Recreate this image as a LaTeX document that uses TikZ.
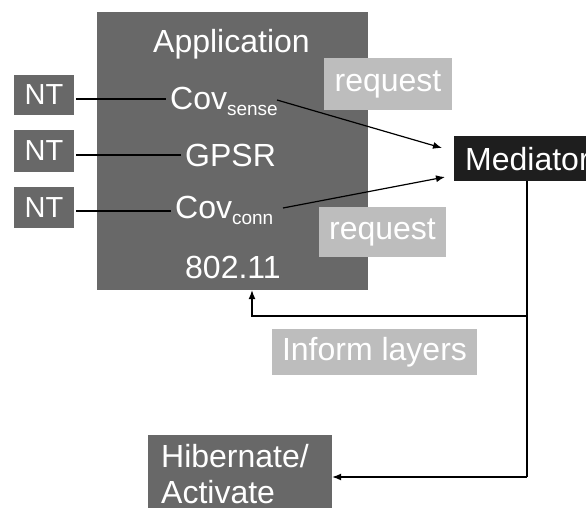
\documentclass[tikz,border=0pt]{standalone}
\usepackage{fontspec}
\setmainfont{Liberation Sans}
\usetikzlibrary{arrows.meta}
\definecolor{boxgray}{HTML}{686868}
\definecolor{lightgray}{HTML}{BDBDBD}
\definecolor{medblack}{HTML}{1E1E1E}
\tikzset{
  blk/.style={fill=#1, draw=none, inner sep=0pt, rectangle},
  txt/.style={text=white, inner xsep=4pt, inner ysep=0pt, font=\fontsize{32}{36}\selectfont},
  ntxt/.style={text=white, inner sep=0pt, font=\fontsize{29}{32}\selectfont},
  conn/.style={draw=black, line width=1.2pt},
  arr/.style={conn, -{Latex[length=9pt,width=7pt]}},
}
\newcommand{\mysub}[1]{{\fontsize{19}{19}\selectfont\raisebox{-6pt}{#1}}}
\begin{document}
\begin{tikzpicture}[x=1pt,y=-1pt]
\useasboundingbox[fill=white] (0,0) rectangle (586,508);
% big box
\node[blk=boxgray, minimum width=271pt, minimum height=278pt] (app) at (232.5,151) {};
% NT boxes
\node[blk=boxgray, minimum width=60pt, minimum height=40pt] (nt1) at (44,95) {};
\node[blk=boxgray, minimum width=60pt, minimum height=42pt] (nt2) at (44,151) {};
\node[blk=boxgray, minimum width=60pt, minimum height=41pt] (nt3) at (44,207.5) {};
\node[ntxt] at (nt1) {NT};
\node[ntxt] at (nt2) {NT};
\node[ntxt] at (nt3) {NT};
% request boxes
\node[blk=lightgray, minimum width=128pt, minimum height=52pt] (req1) at (388,84) {};
\node[blk=lightgray, minimum width=127pt, minimum height=50pt] (req2) at (382.5,232) {};
\node[txt] at (req1) {request};
\node[txt] at (req2) {request};
% mediator
\node[blk=medblack, minimum width=140pt, minimum height=45pt] (med) at (524,158.5) {};
\node[txt, anchor=base west] (medt) at (461,170) {Mediator};
% inform layers
\node[blk=lightgray, minimum width=205pt, minimum height=46pt] (inf) at (374.5,352) {};
\node[txt] at (inf) {Inform layers};
% hibernate
\node[blk=boxgray, minimum width=184pt, minimum height=90pt] (hib) at (240,480) {};
\node[txt, anchor=base west] (hibt1) at (157,467) {Hibernate/};
\node[txt, anchor=base west] (hibt2) at (157,503) {Activate};
% texts in app box
\node[txt, anchor=base west] (apptxt) at (149,53) {Application};
\node[txt, anchor=base west] (covs) at (166,110) {Cov\mysub{sense}};
\node[txt, anchor=base west] (gpsr) at (181,166) {GPSR};
\node[txt, anchor=base west] (covc) at (171,218) {Cov\mysub{conn}};
\node[txt, anchor=base west] (mac) at (181,278) {802.11};
% connectors
\coordinate (a1) at (442,148);
\coordinate (a2) at (445,177);
\coordinate (vtop) at (527,181);
\coordinate (vj) at (527,316);
\coordinate (vbot) at (527,477);
\coordinate (hj) at (252,316);
\draw[conn] (nt1.east) ++(2,4) -- (covs.west |- 0,99);
\draw[conn] (nt2.east) ++(2,4) -- (gpsr.west |- 0,155);
\draw[conn] (nt3.east) ++(2,3.5) -- (covc.west |- 0,211);
\draw[arr] (277,100) -- (a1);
\draw[arr] (283,208) -- (a2);
\draw[conn] (med.south -| vtop) -- (vbot);
\draw[arr] (vj) -- (hj) -- (app.south -| hj);
\draw[arr] (vbot) -- (hib.east |- vbot);
\end{tikzpicture}
\end{document}
